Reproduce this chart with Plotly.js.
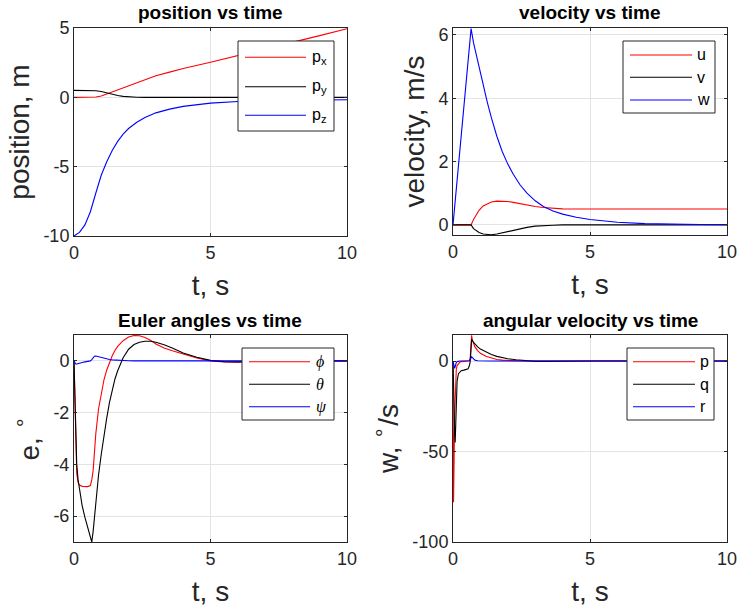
<!DOCTYPE html>
<html><head><meta charset="utf-8">
<script src="https://cdn.plot.ly/plotly-3.0.1.min.js"></script>
<style>html,body{margin:0;padding:0;background:#fff}</style>
</head><body><div id="chart" style="width:737px;height:610px"></div>
<script>
// ---------------- data ----------------
const seriesColors = ['#ff0000', '#000000', '#0000ff'];

const subplotTitles = ['position vs time', 'velocity vs time', 'Euler angles vs time', 'angular velocity vs time'];
const xTitle = 't, s';
const yTitles = ['position, m', 'velocity, m/s', 'e, <sup>∘</sup>', 'w, <sup>∘</sup>/s'];

const posNames = ['p<sub>x</sub>', 'p<sub>y</sub>', 'p<sub>z</sub>'];
const velNames = ['u', 'v', 'w'];
const eulNames = ['<i>ϕ</i>', '<i>θ</i>', '<i>ψ</i>'];
const angNames = ['p', 'q', 'r'];

const xTickVals = [0, 5, 10];
const xTickText = ['0', '5', '10'];
const posTickVals = [-10, -5, 0, 5];
const posTickText = ['-10', '-5', '0', '5'];
const velTickVals = [0, 2, 4, 6];
const velTickText = ['0', '2', '4', '6'];
const eulTickVals = [-6, -4, -2, 0];
const eulTickText = ['-6', '-4', '-2', '0'];
const angTickVals = [-100, -50, 0];
const angTickText = ['-100', '-50', '0'];

// position vs time
const tPos = [0, 0.2, 0.4, 0.6, 0.8, 1.0, 1.2, 1.4, 1.6, 1.8, 2.0, 2.3, 2.6, 3.0, 3.5, 4.0, 5.0, 6.0, 7.0, 8.0, 9.0, 10.0];
const pX = [0, 0, 0, 0, 0.02, 0.1, 0.25, 0.4, 0.55, 0.7, 0.85, 1.08, 1.28, 1.55, 1.82, 2.08, 2.53, 3.0, 3.48, 3.97, 4.45, 4.95];
const pY = [0.5, 0.5, 0.5, 0.5, 0.48, 0.42, 0.32, 0.21, 0.13, 0.07, 0.035, 0.01, 0, 0, 0, 0, 0, 0, 0, 0, 0, 0];
const pZ = [-10, -9.74, -9.2, -8.25, -6.9, -5.6, -4.64, -3.83, -3.18, -2.65, -2.25, -1.8, -1.45, -1.12, -0.85, -0.65, -0.42, -0.3, -0.24, -0.2, -0.18, -0.17];

// velocity vs time
const tVel = [0, 0.66, 0.75, 0.85, 0.95, 1.1, 1.25, 1.4, 1.6, 1.8, 2.0, 2.2, 2.45, 2.7, 3.0, 3.3, 3.65, 4.0, 4.5, 5.0, 5.5, 6.0, 7.0, 8.0, 9.0, 10.0];
const velU = [0, 0, 0.17, 0.33, 0.46, 0.6, 0.67, 0.72, 0.75, 0.755, 0.74, 0.71, 0.67, 0.62, 0.58, 0.55, 0.52, 0.505, 0.5, 0.5, 0.5, 0.5, 0.5, 0.5, 0.5, 0.5];
const velV = [0, 0, -0.12, -0.19, -0.24, -0.29, -0.305, -0.31, -0.29, -0.25, -0.2, -0.17, -0.13, -0.08, -0.04, -0.02, -0.01, 0, 0, 0, 0, 0, 0, 0, 0, 0];
const velW = [0, 6.2, 5.75, 5.36, 4.97, 4.42, 3.88, 3.39, 2.8, 2.31, 1.92, 1.6, 1.26, 1.0, 0.76, 0.58, 0.44, 0.34, 0.24, 0.17, 0.12, 0.085, 0.04, 0.02, 0.01, 0.005];

// Euler angles vs time
const tEul = [0, 0.03, 0.06, 0.1, 0.15, 0.2, 0.3, 0.4, 0.5, 0.6, 0.65, 0.7, 0.75, 0.8, 0.9, 1.0, 1.1, 1.2, 1.3, 1.4, 1.5, 1.6, 1.8, 2.0, 2.2, 2.4, 2.6, 2.8, 3.0, 3.3, 3.6, 4.0, 4.5, 5.0, 5.5, 6.0, 7.0, 8.0, 10.0];
const eulPhi = [0, -1.8, -3.4, -4.35, -4.7, -4.8, -4.85, -4.86, -4.86, -4.82, -4.6, -4.25, -3.4, -2.8, -1.85, -1.2, -0.72, -0.35, -0.03, 0.2, 0.4, 0.56, 0.78, 0.92, 0.98, 0.97, 0.9, 0.8, 0.65, 0.5, 0.39, 0.26, 0.11, 0.0, -0.04, -0.05, -0.02, 0, 0];
const eulTheta = [0, -1.5, -3.0, -4.0, -4.6, -5.0, -5.6, -6.05, -6.45, -6.85, -7.0, -6.6, -6.0, -5.4, -4.4, -3.6, -2.8, -2.2, -1.6, -1.1, -0.7, -0.38, 0.12, 0.45, 0.63, 0.72, 0.76, 0.76, 0.72, 0.62, 0.5, 0.3, 0.14, 0.02, -0.03, -0.04, -0.02, 0, 0];
const eulPsi = [0, -0.08, -0.12, -0.12, -0.1, -0.08, -0.06, -0.04, -0.02, 0.0, 0.05, 0.14, 0.18, 0.19, 0.16, 0.12, 0.09, 0.07, 0.05, 0.04, 0.03, 0.02, 0.01, 0.005, 0, 0, 0, 0, 0, 0, 0, 0, 0, 0, 0, 0, 0, 0, 0];

// angular velocity vs time
const tAng = [0, 0.02, 0.04, 0.06, 0.08, 0.1, 0.12, 0.15, 0.2, 0.25, 0.3, 0.4, 0.5, 0.55, 0.6, 0.63, 0.66, 0.68, 0.7, 0.75, 0.8, 0.9, 1.0, 1.2, 1.4, 1.6, 1.8, 2.0, 2.3, 2.6, 3.0, 3.5, 4.0, 5.0, 10.0];
const angP = [0, -78, -55, -30, -15, -8, -4.5, -2.5, -1.2, -0.6, -0.3, -0.1, 0, 0, 0.2, 2, 10, 14.2, 12, 9.5, 7.8, 5.8, 4.3, 2.6, 1.6, 0.9, 0.5, 0.3, 0.1, 0, 0, 0, 0, 0, 0];
const angQ = [0, -8, -25, -40, -45, -35, -20, -11, -7, -5.8, -5.3, -5, -4.8, -4.3, -2.5, 0, 7, 12, 11.5, 10.3, 9.3, 7.8, 6.6, 4.9, 3.6, 2.6, 1.85, 1.3, 0.7, 0.2, -0.2, -0.2, -0.1, 0, 0];
const angR = [0, -2, -3.8, -4, -3, -1.5, -0.8, -0.3, 0, 0, 0, 0, 0, 0.1, 0.2, 0.8, 2, 2.4, 2, 1, 0.5, 0.2, 0.1, 0, 0, 0, 0, 0, 0, 0, 0, 0, 0, 0, 0];

// ---------------- layout helpers ----------------
const W = 737, H = 610;
const fx = x => x / W;
const fy = y => 1 - y / H;
const FONT = 'Liberation Sans, Arial, Helvetica, sans-serif';
const AXC = '#262626';

const panels = [
  {t: tPos, ys: [pX, pY, pZ], names: posNames, xd: [74, 347], yd: [28, 236], yr: [-10, 5], tv: posTickVals, tt: posTickText,
   leg: {x0: 238, x1: 334, y0: 41, y1: 131, rows: [57.3, 86.7, 115.3], lx0: 245, lx1: 306, tx: 310}},
  {t: tVel, ys: [velU, velV, velW], names: velNames, xd: [453, 727], yd: [28, 235], yr: [-0.32, 6.22], tv: velTickVals, tt: velTickText,
   leg: {x0: 623, x1: 715, y0: 41, y1: 113, rows: [55, 77.3, 100], lx0: 630, lx1: 692, tx: 695}},
  {t: tEul, ys: [eulPhi, eulTheta, eulPsi], names: eulNames, xd: [74, 347], yd: [335, 542], yr: [-7, 1], tv: eulTickVals, tt: eulTickText,
   leg: {x0: 242, x1: 334, y0: 348, y1: 420, rows: [361.7, 384.3, 406.7], lx0: 249, lx1: 310, tx: 314}, serif: true},
  {t: tAng, ys: [angP, angQ, angR], names: angNames, xd: [453, 727], yd: [335, 542], yr: [-100, 14.4], tv: angTickVals, tt: angTickText,
   leg: {x0: 627, x1: 714, y0: 348, y1: 420, rows: [361.7, 384.3, 406.7], lx0: 633, lx1: 695, tx: 698}}
];

const traces = [];
const layout = {
  width: W, height: H,
  margin: {l: 0, r: 0, t: 0, b: 0},
  paper_bgcolor: '#ffffff', plot_bgcolor: '#ffffff',
  showlegend: false,
  font: {family: FONT, color: AXC},
  shapes: [], annotations: []
};

panels.forEach((p, i) => {
  const k = i === 0 ? '' : String(i + 1);
  p.ys.forEach((y, j) => {
    traces.push({
      x: p.t, y: y, type: 'scatter', mode: 'lines', name: p.names[j],
      xaxis: 'x' + k, yaxis: 'y' + k,
      line: {color: seriesColors[j], width: 1.1},
      hoverinfo: 'skip'
    });
  });
  const common = {
    showline: true, mirror: 'ticks', linecolor: AXC, linewidth: 1,
    ticks: 'inside', ticklen: 3, tickwidth: 1, tickcolor: AXC,
    showgrid: true, gridcolor: '#e3e3e3', gridwidth: 1, zeroline: false,
    tickfont: {family: FONT, size: 18, color: AXC},
    ticklabeloverflow: 'allow',
    fixedrange: true, automargin: false
  };
  layout['xaxis' + k] = Object.assign({}, common, {
    domain: [fx(p.xd[0]), fx(p.xd[1])], range: [0, 10], anchor: 'y' + k,
    tickmode: 'array', tickvals: xTickVals, ticktext: xTickText,
    title: {text: xTitle, font: {family: FONT, size: 28, color: AXC}, standoff: 13}
  });
  layout['yaxis' + k] = Object.assign({}, common, {
    domain: [fy(p.yd[1]), fy(p.yd[0])], range: p.yr, anchor: 'x' + k,
    tickmode: 'array', tickvals: p.tv, ticktext: p.tt,
    title: {text: yTitles[i], font: {family: FONT, size: 28, color: AXC}, standoff: 5}
  });
  // subplot title
  layout.annotations.push({
    xref: 'paper', yref: 'paper', x: fx((p.xd[0] + p.xd[1]) / 2), y: fy(p.yd[0] - 15),
    xanchor: 'center', yanchor: 'middle', showarrow: false,
    text: '<b>' + subplotTitles[i] + '</b>', font: {family: FONT, size: 19, color: '#000'}
  });
  // legend box
  const L = p.leg;
  layout.shapes.push({type: 'rect', xref: 'paper', yref: 'paper', x0: fx(L.x0), x1: fx(L.x1), y0: fy(L.y1), y1: fy(L.y0),
    line: {color: AXC, width: 1}, fillcolor: '#ffffff', layer: 'above'});
  p.names.forEach((nm, j) => {
    layout.shapes.push({type: 'line', xref: 'paper', yref: 'paper', x0: fx(L.lx0), x1: fx(L.lx1), y0: fy(L.rows[j]), y1: fy(L.rows[j]),
      line: {color: seriesColors[j], width: 1.1}, layer: 'above'});
    layout.annotations.push({xref: 'paper', yref: 'paper', x: fx(L.tx), y: fy(L.rows[j]), xanchor: 'left', yanchor: 'middle',
      showarrow: false, text: nm,
      font: {family: p.serif ? 'Liberation Serif, DejaVu Serif, serif' : FONT, size: 16, color: '#000'}});
  });
});

Plotly.newPlot('chart', traces, layout, {staticPlot: true, displayModeBar: false});
</script></body></html>
